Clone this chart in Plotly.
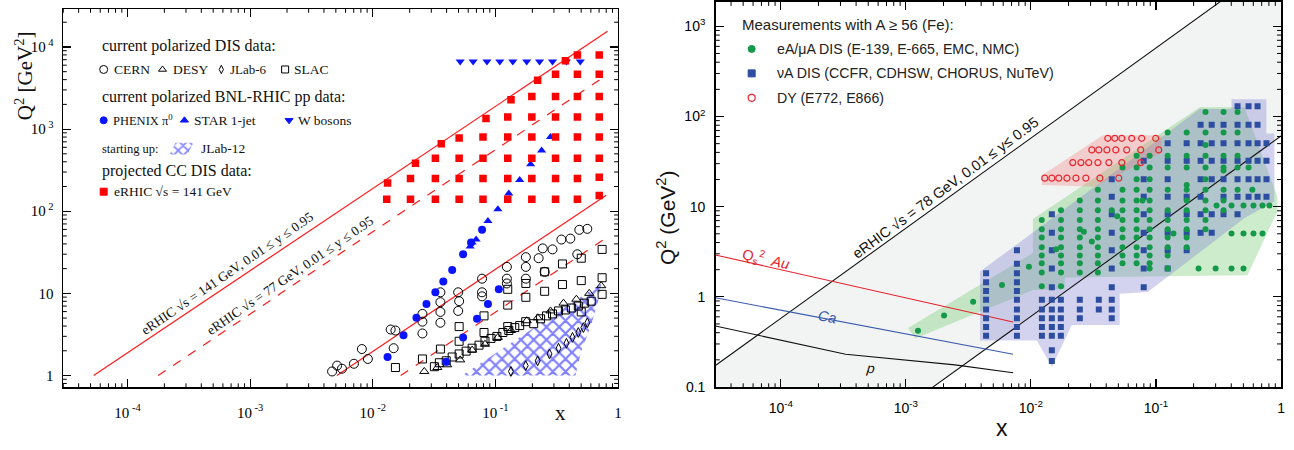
import math
import plotly.graph_objects as go

W, H = 1294, 450

# ================= LEFT PANEL DATA =================
cern_x = [0.00466, 0.00512, 0.00561, 0.00702, 0.00815, 0.00912, 0.0140, 0.0153, 0.0148,
          0.0254, 0.0254, 0.0254, 0.0356, 0.0356, 0.0356, 0.0356, 0.0497, 0.0506, 0.0497,
          0.0778, 0.0778, 0.0778, 0.124, 0.124, 0.124, 0.177, 0.177, 0.177, 0.225, 0.243,
          0.252, 0.292, 0.345, 0.408, 0.465, 0.483, 0.561]
cern_q2 = [1.12, 1.32, 1.21, 1.39, 2.10, 1.59, 3.63, 3.53, 2.15,
           3.25, 4.52, 5.62, 4.39, 5.94, 7.81, 10.3, 6.11, 8.03, 10.3,
           9.2, 10.3, 15.1, 15.1, 21.0, 13.2, 15.1, 21.0, 27.6, 26.8, 35.3,
           18.3, 34.3, 45.2, 46.4, 29.9, 59.4, 61.0]

slac_x = [0.0318, 0.0349, 0.0397, 0.0444, 0.0506, 0.0577, 0.0646, 0.0735, 0.0822, 0.092,
          0.1028, 0.115, 0.1285, 0.1438, 0.1577, 0.1766, 0.205, 0.2335, 0.261, 0.292,
          0.327, 0.372, 0.416, 0.474, 0.531, 0.604, 0.741,
          0.0153, 0.0254, 0.0356, 0.0506, 0.0506, 0.0807, 0.0807, 0.126, 0.126, 0.126,
          0.177, 0.177, 0.252, 0.252, 0.352, 0.352, 0.501, 0.501, 0.501, 0.741, 0.741]
slac_q2 = [1.28, 1.43, 1.51, 1.68, 1.83, 1.98, 2.15, 2.34, 2.61, 2.83,
           2.99, 3.34, 3.53, 3.83, 4.05, 4.52, 4.27, 4.90, 5.32, 5.62,
           6.11, 6.28, 6.63, 7.0, 7.6, 8.03, 9.73,
           1.25, 1.59, 2.10, 2.61, 3.94, 5.32, 3.34, 7.2, 3.94, 11.2,
           8.96, 13.2, 10.6, 18.3, 12.8, 22.8, 14.3, 26.8, 5.94, 15.5, 34.3]

desy_x = [0.0263, 0.0336, 0.0404, 0.0516, 0.0646, 0.0822, 0.1047, 0.1337, 0.180, 0.221,
          0.281, 0.359, 0.457, 0.582, 0.728]
desy_q2 = [1.12, 1.25, 1.35, 1.55, 2.04, 2.40, 2.91, 3.53, 4.64, 5.04,
           6.11, 7.6, 8.49, 10.0, 12.4]

jlab6_x = [0.1337, 0.1766, 0.221, 0.276, 0.327, 0.379, 0.425, 0.474, 0.521, 0.561]
jlab6_q2 = [1.12, 1.32, 1.51, 1.83, 2.15, 2.47, 2.91, 3.34, 3.83, 4.39]

phenix_x = [0.0132, 0.0178, 0.0227, 0.0274, 0.0324, 0.0376, 0.0444, 0.0545, 0.0633, 0.0778,
            0.0397, 0.0545, 0.0708, 0.0869, 0.1066]
phenix_q2 = [1.68, 3.08, 5.04, 7.4, 10.3, 13.9, 19.3, 29.9, 41.6, 59.4,
             1.47, 2.91, 4.9, 7.4, 11.2]

star_x = [0.0622, 0.0646, 0.0696, 0.0869, 0.1047, 0.1285, 0.1577, 0.1936, 0.238, 0.281]
star_q2 = [37.3, 41.6, 45.2, 76, 106, 164, 240, 373, 547, 803]

wbos_x = [0.0516, 0.0658, 0.0853, 0.1086, 0.1386, 0.180, 0.229, 0.292, 0.379, 0.492]
wbos_q2 = [6650] * 10

erhic_cc_x = [0.013, 0.0203, 0.0324, 0.0506, 0.0792, 0.126, 0.198, 0.309, 0.466, 0.702,
              0.0132, 0.0203, 0.0324, 0.0506, 0.0792, 0.126, 0.198, 0.309, 0.466, 0.702,
              0.0223, 0.0324, 0.0506, 0.0792, 0.126, 0.198, 0.309, 0.466, 0.702,
              0.0362, 0.0506, 0.0792, 0.126, 0.198, 0.309, 0.466, 0.702,
              0.0838, 0.126, 0.198, 0.309, 0.466, 0.702,
              0.134, 0.198, 0.309, 0.466, 0.702,
              0.221, 0.309, 0.466, 0.702,
              0.372, 0.466, 0.702]
erhic_cc_q2 = [140] * 9 + [155,
               221] + [250] * 8 + [260,
               383] + [440] * 8 + [
               662, 780] + [800] * 6 + [
               1350] + [1400] * 5 + [
               2280] + [2500] * 4 + [
               3940] + [4640] * 3 + [
               6810, 8000, 8000]

jlab12_x = [0.0535, 0.728, 0.71, 0.604, 0.501, 0.449]
jlab12_q2 = [1.0, 13.2, 9.5, 4.16, 1.98, 1.0]

# eRHIC kinematic limits (end points)
l141_hi_x, l141_hi_q2 = [5.3e-5, 0.82], [1.0, 15500]
l141_lo_x, l141_lo_q2 = [5.1e-3, 0.80], [1.0, 157]
l77_hi_x, l77_hi_q2 = [1.78e-4, 0.76], [1.0, 4270]
l77_lo_x, l77_lo_q2 = [0.0169, 0.76], [1.0, 45]

# ================= RIGHT PANEL DATA =================
r_up_x, r_up_q2 = [3.0e-5, 0.33], [0.173, 1900]
r_lo_x, r_lo_q2 = [1.6e-3, 1.0], [0.097, 60.8]
kin_x = [3.0e-5, 0.33, 1.0, 1.0, 1.6e-3, 3.0e-5]
kin_q2 = [0.173, 1900, 1900, 60.8, 0.097, 0.097]

au_x, au_q2 = [3.0e-5, 7.2e-3], [2.91, 0.525]
ca_x, ca_q2 = [3.0e-5, 7.2e-3], [0.976, 0.231]
p_x, p_q2 = [3.0e-5, 3.3e-4, 2.47e-3, 7.2e-3], [0.474, 0.231, 0.176, 0.144]

green_reg_x = [0.00104, 0.01037, 0.01037, 0.2234, 0.5107, 0.935, 0.935, 0.539, 0.01866,
               0.01866, 0.01037, 0.001186]
green_reg_q2 = [0.452, 3.06, 7.29, 127, 127, 12.9, 8.9, 1.73, 1.64, 1.22, 1.19, 0.344]
nu_reg_x = [0.00392, 0.2234, 0.402, 0.402, 0.764, 0.764, 0.885, 0.885, 0.511, 0.0859,
            0.0513, 0.0513, 0.0212, 0.01472, 0.01116, 0.00392]
nu_reg_q2 = [1.91, 121, 121, 155, 155, 64.9, 64.9, 11.4, 7.48, 1.13,
             1.08, 0.487, 0.487, 0.167, 0.327, 0.327]
dy_reg_x = [0.01224, 0.0376, 0.111, 0.111, 0.0324, 0.01224]
dy_reg_q2 = [22.3, 61.8, 61.8, 39.5, 16.6, 17.4]

dy_rows = [
    (57.3, [0.0412, 0.0468, 0.0533, 0.0640, 0.0769, 0.0995]),
    (42.6, [0.0307, 0.0349, 0.0405, 0.0477, 0.0583, 0.0755, 0.1052]),
    (30.8, [0.0216, 0.0251, 0.0290, 0.0343, 0.0420, 0.0533, 0.0755]),
    (20.7, [0.0129, 0.0147, 0.0167, 0.0194, 0.0229, 0.0275, 0.0356, 0.0504]),
]

nu_rows = [
    (130, [0.449, 0.55, 0.649]),
    (81.2, [0.2275, 0.279, 0.347, 0.449, 0.55, 0.649]),
    (50.6, [0.124, 0.176, 0.2275, 0.279, 0.347, 0.449, 0.55, 0.649, 0.765]),
    (32.4, [0.0798, 0.124, 0.176, 0.2275, 0.279, 0.347, 0.449, 0.55, 0.649, 0.765]),
    (20.2, [0.0443, 0.0798, 0.124, 0.2275, 0.279, 0.347, 0.449, 0.55, 0.649, 0.765]),
    (12.9, [0.0443, 0.0798, 0.124, 0.176, 0.2275, 0.347, 0.449, 0.55, 0.649, 0.765]),
    (8.26, [0.0147, 0.0443, 0.0798, 0.124, 0.176, 0.2275, 0.279, 0.347, 0.449]),
    (5.15, [0.0147, 0.0443, 0.0798, 0.124, 0.176, 0.2275, 0.279]),
    (3.29, [0.00773, 0.0147, 0.0443, 0.0798, 0.124, 0.176]),
    (2.33, [0.00773]),
    (2.06, [0.0147, 0.0443, 0.0798, 0.124]),
    (1.82, [0.00438, 0.00773]),
    (1.45, [0.00438, 0.00773]),
    (1.28, [0.0147, 0.0443, 0.0798]),
    (1.16, [0.00438, 0.00773]),
    (0.929, [0.00438, 0.00773, 0.01224, 0.0147, 0.01735, 0.0246, 0.0349, 0.0443]),
    (0.724, [0.00438, 0.00773, 0.01224, 0.0147, 0.01735, 0.0246, 0.0349, 0.0443]),
    (0.579, [0.00438, 0.00773, 0.01224, 0.0147, 0.01735, 0.0246, 0.0443]),
    (0.463, [0.00438, 0.00773, 0.01224, 0.0147, 0.01735]),
    (0.370, [0.00438, 0.00773, 0.01224, 0.0147, 0.01735]),
    (0.255, [0.0147]),
    (0.194, [0.0147]),
]

ea_rows = [
    (112, [0.249, 0.347, 0.449]),
    (66.5, [0.124, 0.176, 0.249, 0.347, 0.449]),
    (48.2, [0.249]),
    (36.7, [0.070, 0.089, 0.124, 0.176, 0.249, 0.347, 0.449]),
    (27.2, [0.054, 0.070, 0.089, 0.124, 0.176, 0.249, 0.347, 0.449, 0.55]),
    (25.2, [0.347]),
    (20.2, [0.070, 0.089, 0.249]),
    (17.4, [0.176]),
    (15.4, [0.0343, 0.054, 0.070, 0.089, 0.124, 0.176, 0.249, 0.347, 0.449, 0.59]),
    (11.7, [0.0246, 0.0343, 0.054, 0.070, 0.078, 0.089, 0.176, 0.249, 0.347]),
    (10.3, [0.305, 0.402, 0.501, 0.602, 0.711, 0.808]),
    (9.12, [0.0174, 0.0246, 0.0343, 0.0443, 0.054, 0.070, 0.089, 0.124, 0.176, 0.249, 0.347]),
    (7.85, [0.049]),
    (7.11, [0.0122, 0.0174, 0.0246, 0.0343, 0.054, 0.070, 0.089, 0.124, 0.176, 0.249]),
    (5.6, [0.0122, 0.0174, 0.0246, 0.0343, 0.054, 0.070, 0.089, 0.124, 0.176, 0.249]),
    (5.28, [0.0265]),
    (5.03, [0.138, 0.402, 0.501, 0.602, 0.711]),
    (4.55, [0.0122, 0.0174, 0.0246, 0.0343, 0.054, 0.070, 0.089, 0.124, 0.176]),
    (4.12, [0.0307]),
    (3.55, [0.0122, 0.0174, 0.0246, 0.0343, 0.054, 0.070, 0.089, 0.124, 0.176]),
    (3.38, [0.0159]),
    (2.88, [0.0122, 0.0174, 0.0246, 0.0343, 0.054, 0.070, 0.089, 0.124]),
    (2.36, [0.0122, 0.0174, 0.0246, 0.0343, 0.054, 0.070, 0.089]),
    (2.06, [0.089, 0.124, 0.219, 0.30, 0.402, 0.501]),
    (1.86, [0.0122, 0.0174, 0.0246, 0.0343]),
    (1.31, [0.0122, 0.0174]),
]
ea_band_x = [0.00125, 0.00202, 0.00345, 0.00587, 0.00964]
ea_band_q2 = [0.42, 0.62, 0.88, 1.35, 2.16]


def flat(rows):
    xs, ys = [], []
    for q, xl in rows:
        xs += xl
        ys += [q] * len(xl)
    return xs, ys


nu_x, nu_q2 = flat(nu_rows)
ea_x, ea_q2 = flat(ea_rows)
ea_x += ea_band_x
ea_q2 += ea_band_q2
dy_x, dy_q2 = flat(dy_rows)

# ================= FIGURE =================
SERIF = "Liberation Serif"
SANS = "Liberation Sans"
fig = go.Figure()

L = dict(xaxis="x", yaxis="y", showlegend=False, hoverinfo="skip")
R = dict(xaxis="x2", yaxis="y2", showlegend=False, hoverinfo="skip")
O = dict(xaxis="x3", yaxis="y3", showlegend=False, hoverinfo="skip")
HATCH = dict(shape="x", fgcolor="#0000ff", bgcolor="rgba(0,0,0,0)", size=9, solidity=0.42)

# ---- left panel ----
fig.add_trace(go.Scatter(x=jlab12_x, y=jlab12_q2, mode="lines", fill="toself",
                         line=dict(width=0, color="rgba(0,0,0,0)"), fillcolor="rgba(0,0,0,0)",
                         fillpattern=HATCH, **L))
for xs, ys, dash in [(l141_hi_x, l141_hi_q2, "solid"), (l141_lo_x, l141_lo_q2, "solid"),
                     (l77_hi_x, l77_hi_q2, "dash"), (l77_lo_x, l77_lo_q2, "dash")]:
    fig.add_trace(go.Scatter(x=xs, y=ys, mode="lines",
                             line=dict(color="#ff1a1a", width=1.2, dash=dash), **L))

open_style = dict(color="black", line=dict(width=1, color="black"))
fig.add_trace(go.Scatter(x=cern_x, y=cern_q2, mode="markers",
                         marker=dict(symbol="circle-open", size=9, **open_style), **L))
fig.add_trace(go.Scatter(x=slac_x, y=slac_q2, mode="markers",
                         marker=dict(symbol="square-open", size=8, **open_style), **L))
fig.add_trace(go.Scatter(x=desy_x, y=desy_q2, mode="markers",
                         marker=dict(symbol="triangle-up-open", size=8, **open_style), **L))
fig.add_trace(go.Scatter(x=jlab6_x, y=jlab6_q2, mode="markers",
                         marker=dict(symbol="diamond-tall-open", size=7, **open_style), **L))
fig.add_trace(go.Scatter(x=phenix_x, y=phenix_q2, mode="markers",
                         marker=dict(symbol="circle", size=8, color="#0a14ff"), **L))
fig.add_trace(go.Scatter(x=star_x, y=star_q2, mode="markers",
                         marker=dict(symbol="triangle-up", size=8, color="#0a14ff"), **L))
fig.add_trace(go.Scatter(x=wbos_x, y=wbos_q2, mode="markers",
                         marker=dict(symbol="triangle-down", size=8, color="#0a14ff"), **L))
fig.add_trace(go.Scatter(x=erhic_cc_x, y=erhic_cc_q2, mode="markers",
                         marker=dict(symbol="square", size=7.5, color="#ff0000"), **L))

# ---- right panel ----
fig.add_trace(go.Scatter(x=kin_x, y=kin_q2, mode="lines", fill="toself",
                         line=dict(width=0), fillcolor="#f2f4f3", **R))
fig.add_trace(go.Scatter(x=green_reg_x, y=green_reg_q2, mode="lines", fill="toself",
                         line=dict(width=0), fillcolor="rgba(110,200,110,0.35)", **R))
fig.add_trace(go.Scatter(x=nu_reg_x, y=nu_reg_q2, mode="lines", fill="toself",
                         line=dict(width=0), fillcolor="rgba(120,120,205,0.33)", **R))
fig.add_trace(go.Scatter(x=dy_reg_x, y=dy_reg_q2, mode="lines", fill="toself",
                         line=dict(width=0), fillcolor="rgba(240,120,120,0.30)", **R))
for xs, ys, c in [(r_up_x, r_up_q2, "#111111"), (r_lo_x, r_lo_q2, "#111111"),
                  (au_x, au_q2, "#e8202a"), (ca_x, ca_q2, "#3a5aad"), (p_x, p_q2, "#111111")]:
    fig.add_trace(go.Scatter(x=xs, y=ys, mode="lines", line=dict(color=c, width=1.1), **R))
fig.add_trace(go.Scatter(x=nu_x, y=nu_q2, mode="markers",
                         marker=dict(symbol="square", size=6, color="#2d4da0"), **R))
fig.add_trace(go.Scatter(x=ea_x, y=ea_q2, mode="markers",
                         marker=dict(symbol="circle", size=6, color="#14994a"), **R))
fig.add_trace(go.Scatter(x=dy_x, y=dy_q2, mode="markers",
                         marker=dict(symbol="circle-open", size=6, color="#e8282f",
                                     line=dict(width=1.2, color="#e8282f")), **R))


# ---- legend symbols (overlay axes in pixel units) ----
def sym(px, py, symbol, size, color, lw=1):
    fig.add_trace(go.Scatter(x=[px], y=[py], mode="markers",
                             marker=dict(symbol=symbol, size=size, color=color,
                                         line=dict(width=lw, color=color)), **O))


sym(104, 69, "circle-open", 8, "black")
sym(163, 69, "triangle-up-open", 7, "black")
sym(222, 69, "diamond-tall-open", 6, "black")
sym(286, 69, "square-open", 7, "black")
sym(104, 121, "circle", 7, "#0a14ff")
sym(185, 121, "triangle-up", 7, "#0a14ff")
sym(290, 121, "triangle-down", 7, "#0a14ff")
sym(104, 194, "square", 7, "#ff0000")
sym(754, 48, "circle", 7, "#14994a")
sym(754, 73, "square", 7, "#2d4da0")
sym(754, 98, "circle-open", 7, "#e8282f", 1.2)
fig.add_trace(go.Scatter(x=[170, 176, 194, 188, 170], y=[156, 144, 144, 156, 156], mode="lines",
                         fill="toself", line=dict(width=0, color="rgba(0,0,0,0)"),
                         fillcolor="rgba(0,0,0,0)",
                         fillpattern=dict(shape="x", fgcolor="#0000ff", bgcolor="rgba(0,0,0,0)",
                                          size=7, solidity=0.4), **O))

# ---- axes (pixel frames of the two panels) ----
LEFT = dict(px=(63, 620), py=(394, 7), xr=(-4.527, 0.0), yr=(-0.143, 4.464))
RIGHT = dict(px=(718, 1285), py=(394, 0), xr=(-4.52, 0.0), yr=(-1.003, 3.27))


def axis_common(font, size, standoff):
    return dict(type="log", showgrid=False, zeroline=False, showline=True, linecolor="black",
                linewidth=1.3, mirror="ticks", ticks="inside", ticklen=8, tickwidth=1.1,
                tickcolor="black", tickfont=dict(family=font, size=size, color="black"),
                ticklabelstandoff=standoff, tickmode="array")


ax_l_x = axis_common(SERIF, 15, 11)
ax_l_x.update(domain=[LEFT["px"][0] / W, LEFT["px"][1] / W], range=list(LEFT["xr"]), anchor="y",
              tickvals=[1e-4, 1e-3, 1e-2, 1e-1, 1],
              ticktext=["10<sup> -4</sup>", "10<sup> -3</sup>", "10<sup> -2</sup>",
                        "10<sup> -1</sup>", "1"])
ax_l_y = axis_common(SERIF, 15, 5)
ax_l_y.update(domain=[1 - LEFT["py"][0] / H, 1 - LEFT["py"][1] / H], range=list(LEFT["yr"]),
              anchor="x", tickvals=[1, 10, 100, 1000, 10000],
              ticktext=["1", "10", "10<sup> 2</sup>", "10<sup> 3</sup>", "10<sup> 4</sup>"])
ax_r_x = axis_common(SANS, 14, 7)
ax_r_x.update(domain=[RIGHT["px"][0] / W, RIGHT["px"][1] / W], range=list(RIGHT["xr"]),
              anchor="y2", tickvals=[1e-4, 1e-3, 1e-2, 1e-1, 1],
              ticktext=["10<sup>-4</sup>", "10<sup>-3</sup>", "10<sup>-2</sup>",
                        "10<sup>-1</sup>", "1"], linewidth=1.6)
ax_r_y = axis_common(SANS, 14, 6)
ax_r_y.update(domain=[1 - RIGHT["py"][0] / H, 1 - RIGHT["py"][1] / H], range=list(RIGHT["yr"]),
              anchor="x2", tickvals=[0.1, 1, 10, 100, 1000],
              ticktext=["0.1", "1", "10", "10<sup>2</sup>", "10<sup>3</sup>"], linewidth=1.6)

# minor ticks (2..9 per decade) drawn as short line shapes on all four sides
shapes = []


def minor_ticks(panel, length=4):
    x0p, x1p = panel["px"]
    yb, yt = panel["py"]
    lo, hi = panel["xr"]
    for e in range(-6, 2):
        for m in range(2, 10):
            lv = e + math.log10(m)
            if lo < lv < hi:
                xp = x0p + (lv - lo) / (hi - lo) * (x1p - x0p)
                for ya, yb2 in [(yb, yb - length), (yt, yt + length)]:
                    shapes.append(dict(type="line", xref="paper", yref="paper",
                                       x0=xp / W, x1=xp / W, y0=1 - ya / H, y1=1 - yb2 / H,
                                       line=dict(color="black", width=1)))
    lo, hi = panel["yr"]
    for e in range(-2, 6):
        for m in range(2, 10):
            lv = e + math.log10(m)
            if lo < lv < hi:
                yp = yb + (lv - lo) / (hi - lo) * (yt - yb)
                for xa, xb in [(x0p, x0p + length), (x1p, x1p - length)]:
                    shapes.append(dict(type="line", xref="paper", yref="paper",
                                       x0=xa / W, x1=xb / W, y0=1 - yp / H, y1=1 - yp / H,
                                       line=dict(color="black", width=1)))


minor_ticks(LEFT)
minor_ticks(RIGHT)


def P(px, py):
    return px / W, 1 - py / H


ann = []


def txt(px, py, text, size, font=SERIF, color="#111111", anchor="left", angle=0):
    x, y = P(px, py)
    ann.append(dict(x=x, y=y, xref="paper", yref="paper", text=text, showarrow=False,
                    xanchor=anchor, yanchor="middle", textangle=angle,
                    font=dict(family=font, size=size, color=color)))


# left legend
txt(100, 45, "current polarized DIS data:", 16)
txt(112, 69, "CERN", 13.5)
txt(172, 69, "DESY", 13.5)
txt(229, 69, "JLab-6", 13)
txt(293, 69, "SLAC", 13.5)
txt(100, 97, "current polarized BNL-RHIC pp data:", 16)
txt(111, 121, "PHENIX π<sup>0</sup>", 12.5)
txt(193, 121, "STAR 1-jet", 13.5)
txt(297, 121, "W bosons", 13.5)
txt(100, 150, "starting up:", 12.5)
txt(200, 150, "JLab-12", 13.5)
txt(100, 173, "projected CC DIS data:", 16)
txt(112, 194, "eRHIC √s = 141 GeV", 13.5)
# left line labels + titles
txt(228, 278, "eRHIC √s = 141 GeV, 0.01 ≤ y ≤ 0.95", 13.5, anchor="center", angle=-34.5)
txt(291, 280, "eRHIC √s = 77 GeV, 0.01 ≤ y ≤ 0.95", 13.5, anchor="center", angle=-34.5)
txt(24, 75, "Q<sup>2</sup> [GeV<sup>2</sup>]", 21, anchor="center", angle=-90)
txt(562, 420, "x", 21, anchor="center")

# right legend
txt(742, 23, "Measurements with A ≥ 56 (Fe):", 15, font=SANS, color="#222222")
txt(777, 48, "eA/μA DIS (E-139, E-665, EMC, NMC)", 14.2, font=SANS, color="#222222")
txt(777, 73, "νA DIS (CCFR, CDHSW, CHORUS, NuTeV)", 14.2, font=SANS, color="#222222")
txt(777, 98, "DY (E772, E866)", 14.2, font=SANS, color="#222222")
txt(948, 190, "eRHIC √s = 78 GeV, 0.01 ≤ y≤ 0.95", 14.5, font=SANS, color="#111111",
    anchor="center", angle=-36.5)
txt(768, 263, "Q<sub>s</sub><sup>2</sup>  <i>Au</i>", 14.5, font=SANS, color="#e8202a",
    anchor="center", angle=13)
txt(830, 322, "<i>Ca</i>", 14.5, font=SANS, color="#3a5aad", anchor="center", angle=11)
txt(873, 374, "<i>p</i>", 14, font=SANS, color="#111111", anchor="center", angle=6)
txt(668, 220, "Q<sup>2</sup> (GeV<sup>2</sup>)", 21, font=SANS, anchor="center", angle=-90)
txt(1005, 436, "x", 23, font=SANS, anchor="center")

fig.update_layout(
    width=W, height=H, margin=dict(l=0, r=0, t=0, b=0),
    paper_bgcolor="white", plot_bgcolor="rgba(0,0,0,0)", showlegend=False,
    xaxis=ax_l_x, yaxis=ax_l_y, xaxis2=ax_r_x, yaxis2=ax_r_y,
    xaxis3=dict(domain=[0, 1], range=[0, W], visible=False, anchor="y3", fixedrange=True),
    yaxis3=dict(domain=[0, 1], range=[H, 0], visible=False, anchor="x3", fixedrange=True),
    annotations=ann, shapes=shapes, hovermode=False,
)

fig.write_html("out.html", config={"displayModeBar": False, "staticPlot": True},
               post_script="document.body.style.margin='0';document.body.style.padding='0';")
